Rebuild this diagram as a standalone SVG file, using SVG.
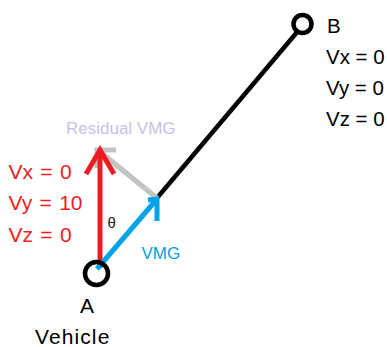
<svg xmlns="http://www.w3.org/2000/svg" width="387" height="347" viewBox="0 0 387 347">
<style>
text{font-family:"Liberation Sans",Arial,sans-serif}
.lbl{font-size:21px;fill:#000}
.lblB{font-size:20.5px;fill:#000}
.red{font-size:21px;fill:#ed1c24;word-spacing:1.5px}
.ring{fill:none;stroke:#000;stroke-width:4.5}
.arr{fill:none;stroke-width:5;stroke-linecap:butt;stroke-linejoin:miter}
</style>
<rect width="387" height="347" fill="#fff"/>
<g id="connectors">
  <line x1="157" y1="198" x2="298" y2="31" stroke="#000" stroke-width="4.5"/>
  <g id="residual-arrow">
    <line x1="97" y1="151" x2="155" y2="198" stroke="#7fc97f" stroke-width="1" opacity="0.7" transform="translate(1,2)"/>
    <line x1="157" y1="198" x2="98" y2="150" class="arr" stroke="#c3c3c3"/>
    <polyline points="116,150 97,150 97,168" class="arr" stroke="#c3c3c3"/>
  </g>
  <g id="red-arrow">
    <line x1="100" y1="268" x2="100" y2="150" class="arr" stroke="#ed1c24"/>
    <polyline points="86,174 100,150 114,174" class="arr" stroke="#ed1c24"/>
  </g>
  <g id="vmg-arrow">
    <line x1="97" y1="269" x2="157" y2="199" class="arr" stroke="#00a2e8"/>
    <polyline points="148,200 157,199 157,221" class="arr" stroke="#00a2e8"/>
  </g>
</g>
<g id="nodeA">
  <circle cx="96.5" cy="273.5" r="11.5" class="ring"/>
  <text x="87" y="313" class="lbl" text-anchor="middle">A</text>
  <text x="35" y="344" class="lbl" letter-spacing="1.1">Vehicle</text>
</g>
<g id="nodeB">
  <circle cx="302.5" cy="24" r="9" class="ring"/>
  <text x="327" y="33" class="lblB">B</text>
  <text x="326" y="64" class="lblB">Vx = 0</text>
  <text x="326" y="95" class="lblB">Vy = 0</text>
  <text x="326" y="126" class="lblB">Vz = 0</text>
</g>
<g id="vehicle-velocity">
  <text x="8.5" y="178.5" class="red">Vx = 0</text>
  <text x="8.5" y="210" class="red">Vy = 10</text>
  <text x="8.5" y="242" class="red">Vz = 0</text>
</g>
<g id="labels">
  <text x="66" y="134" font-size="17" fill="#c8bfe7">Residual VMG</text>
  <text x="107.5" y="227.5" font-size="15" fill="#222">θ</text>
  <text x="141.5" y="259" font-size="17" fill="#00a2e8">VMG</text>
</g>
</svg>
